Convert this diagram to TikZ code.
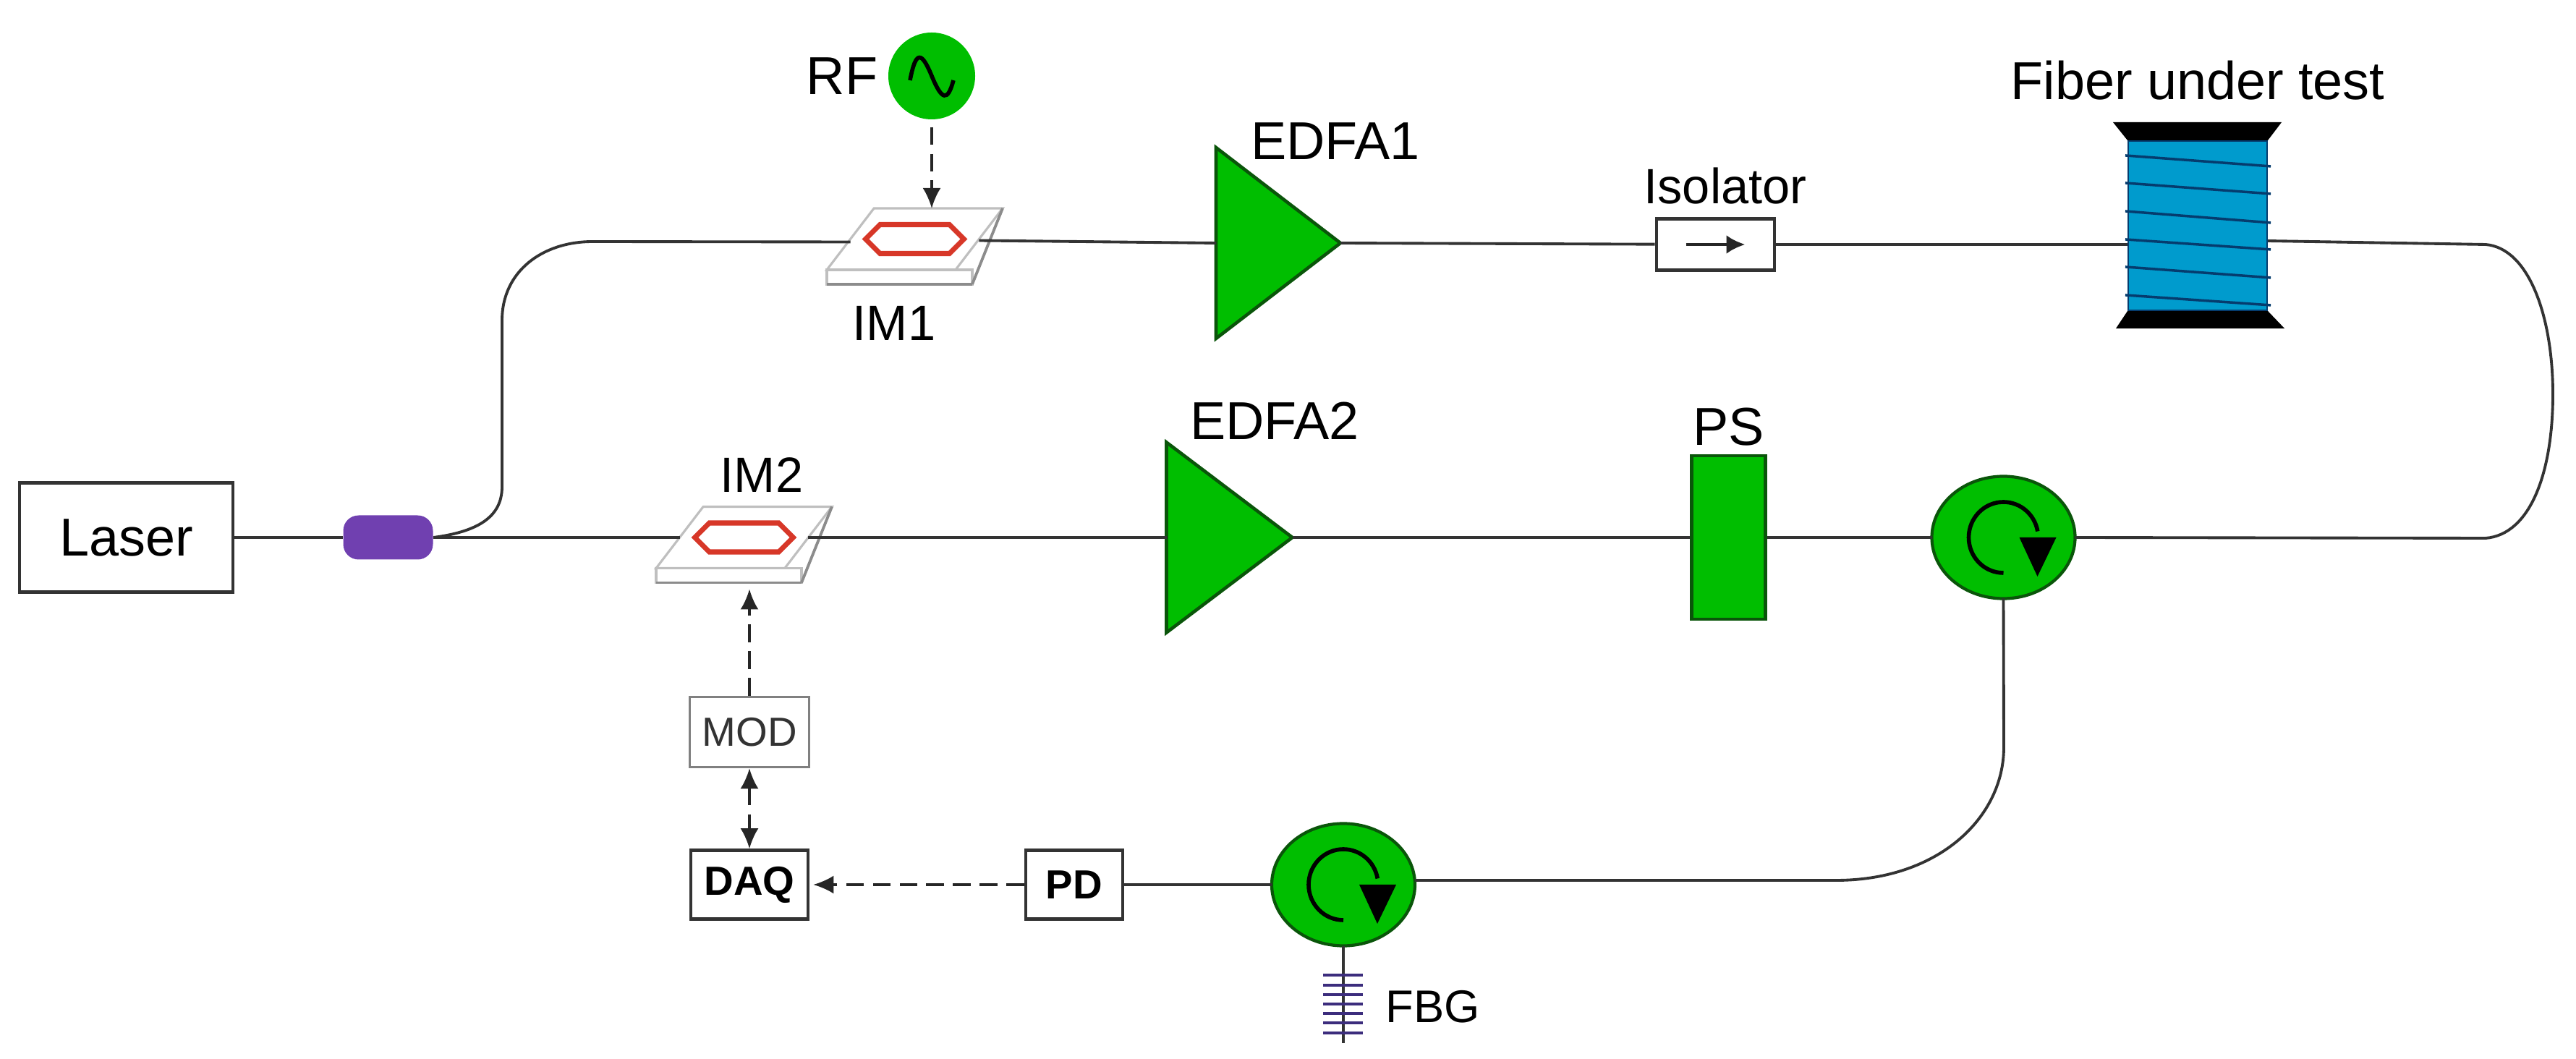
\documentclass[tikz,border=0pt]{standalone}
\usepackage{fontspec}
\setmainfont{Liberation Sans}
\usetikzlibrary{arrows.meta,shapes.geometric,shapes.symbols}

\definecolor{ampgreen}{RGB}{0,190,0}
\definecolor{ampedge}{RGB}{10,85,10}
\definecolor{coilblue}{RGB}{0,155,205}
\definecolor{coilline}{RGB}{5,60,110}
\definecolor{purp}{RGB}{112,64,176}
\definecolor{fbgcol}{RGB}{60,45,125}
\definecolor{hexred}{RGB}{215,55,40}

\tikzset{
  bigtxt/.style={inner sep=0pt, font=\fontsize{21pt}{25pt}\selectfont},
  imtxt/.style={inner sep=0pt, font=\fontsize{19.5pt}{24pt}\selectfont},
  fibre/.style={draw=black!80, line width=1.1pt},
  sigline/.style={draw=black!85, line width=.9pt, dashed, dash pattern=on 7pt off 3.5pt, -{Latex[length=2.8mm,width=2.5mm]}},
  sigboth/.style={sigline, {Latex[length=2.8mm,width=2.5mm]}-{Latex[length=2.8mm,width=2.5mm]}},
  box/.style={draw=black!80, fill=white, line width=1.3pt, inner sep=0pt},
  amp/.style={isosceles triangle, isosceles triangle stretches, shape border rotate=0, fill=ampgreen, draw=ampedge, line width=1.3pt, inner sep=1pt, outer sep=0pt},
  plate/.style={trapezium, trapezium left angle=60, trapezium right angle=120, trapezium stretches, draw=black!25, fill=white, line width=.9pt, inner sep=1pt, outer sep=0pt, minimum width=2.43cm, minimum height=.85cm},
  platefront/.style={draw=black!25, fill=white, line width=.9pt, inner sep=0pt, outer sep=0pt, minimum width=2.01cm, minimum height=.2cm, anchor=north west},
  plateedge/.style={draw=black!45, line width=1.1pt},
  hexring/.style={signal, signal to=east and west, signal pointer angle=90, draw=hexred, line width=2pt, inner sep=0pt, minimum width=1.36cm, minimum height=.40cm},
  circulator/.style={ellipse, fill=ampgreen, draw=ampedge, line width=1.2pt, inner sep=0pt, outer sep=0pt, minimum width=1.98cm, minimum height=1.69cm},
  turn/.style={draw=black, line width=1.6pt},
  winding/.style={draw=coilline, line width=1pt},
  tooth/.style={draw=fbgcol, line width=1.2pt},
}

\begin{document}
\begin{tikzpicture}
  \useasboundingbox (0,0) rectangle (35.61,14.63);

  % bottom row of the loop
  \node (laser) [box, minimum width=2.95cm, minimum height=1.51cm, bigtxt] at (1.745,7.20) {Laser};
  \node (coup) [node distance=3.62cm, right of=laser, fill=purp, rounded corners=6pt, inner sep=0pt, minimum width=1.24cm, minimum height=.61cm] {};
  \node (im2) [plate, node distance=4.92cm, right of=coup] {};
  \node (im2f) [platefront] at (im2.bottom left corner) {};
  \node (hex2) [hexring] at (im2.center) {};
  \node (im2txt) [imtxt] at (10.53,8.06) {IM2};
  \node (edfa2) [amp, minimum width=2.63cm, minimum height=1.74cm, node distance=5.84cm, right of=im2, anchor=lower side] {};
  \node (edfa2txt) [bigtxt] at (17.62,8.81) {EDFA2};
  \node (ps) [fill=ampgreen, draw=ampedge, line width=1.3pt, inner sep=0pt, minimum width=1.02cm, minimum height=2.26cm, node distance=13.61cm, right of=im2] {};
  \node (pstxt) [bigtxt, node distance=1.53cm, above of=ps] {PS};
  \node (circ1) [circulator, node distance=3.8cm, right of=ps] {};

  % top row
  \node (im1) [plate] at (12.645,11.325) {};
  \node (im1f) [platefront] at (im1.bottom left corner) {};
  \node (hex1) [hexring] at (im1.center) {};
  \node (im1txt) [imtxt] at (12.36,10.16) {IM1};
  \node (rf) [circle, fill=ampgreen, inner sep=0pt, minimum size=1.2cm] at (12.88,13.58) {};
  \node (rftxt) [bigtxt, node distance=1.24cm, left of=rf] {RF};
  \node (edfa1) [amp, minimum width=2.64cm, minimum height=1.72cm, anchor=lower side] at (16.81,11.27) {};
  \node (edfa1txt) [bigtxt] at (18.46,12.68) {EDFA1};
  \node (iso) [box, minimum width=1.63cm, minimum height=.71cm] at (23.715,11.25) {};
  \node (isotxt) [imtxt] at (23.85,12.06) {Isolator};
  \node (spool) [fill=coilblue, draw=coilline, line width=.6pt, inner sep=0pt, minimum width=1.92cm, minimum height=2.34cm] at (30.38,11.51) {};
  \node (spooltxt) [bigtxt, node distance=2.01cm, above of=spool] {Fiber under test};

  % detection part
  \node (circ2) [circulator] at (18.57,2.40) {};
  \node (pd) [box, minimum width=1.34cm, minimum height=.95cm, font=\fontsize{16pt}{19pt}\selectfont\bfseries, node distance=3.72cm, left of=circ2] {PD};
  \node (daq) [box, minimum width=1.62cm, minimum height=.95cm, font=\fontsize{16pt}{19pt}\selectfont\bfseries, node distance=4.49cm, left of=pd] {DAQ};
  \node (mod) [box, draw=black!50, text=black!80, line width=1pt, minimum width=1.65cm, minimum height=.97cm, font=\fontsize{16pt}{19pt}\selectfont, node distance=2.11cm, above of=daq] {MOD};
  \node (fbgtxt) [inner sep=0pt, font=\fontsize{18pt}{22pt}\selectfont] at (19.81,.71) {FBG};
  \coordinate (fbgend) at (18.57,.21);

  % modulator plates, side edge and lower edge
  \draw [plateedge] (im1.top right corner) to (im1f.south east);
  \draw [plateedge] (im1f.south west) to (im1f.south east);
  \draw [plateedge] (im2.top right corner) to (im2f.south east);
  \draw [plateedge] (im2f.south west) to (im2f.south east);

  % fibres
  \draw [fibre] (laser) to (coup);
  \draw [fibre] (coup) to (im2.left side);
  \draw [fibre] (im2.right side) to (edfa2.lower side);
  \draw [fibre] (edfa2.apex) to (ps);
  \draw [fibre] (ps) to (circ1);
  \draw [fibre] (coup.east) .. controls (6.60,7.28) and (6.94,7.48) .. (6.94,7.90) -- (6.94,10.2) .. controls (6.94,10.88) and (7.50,11.29) .. (8.19,11.29) -- ([yshift=-.04cm]im1.left side);
  \draw [fibre] ([yshift=-.02cm]im1.right side) to (edfa1.lower side);
  \draw [fibre] (edfa1.apex) to (iso);
  \draw [fibre] (iso.east) to (iso.east -| spool.west);
  \draw [fibre] ([yshift=-.21cm]spool.east) -- (34.36,11.25) .. controls (34.96,11.20) and (35.29,10.25) .. (35.29,9.18) .. controls (35.29,8.10) and (34.98,7.24) .. (34.36,7.19) -- (circ1.east);
  \draw [fibre] (circ1.south) -- (27.70,4.30) .. controls (27.70,3.33) and (26.80,2.46) .. (25.38,2.46) -- ([yshift=.06cm]circ2.east);
  \draw [fibre] (circ2) to (pd);
  \draw [fibre] (circ2.south) to (fbgend);

  % signal lines
  \draw [sigline] ([yshift=-.1cm]rf.south) to (rf.south |- im1.north);
  \draw [sigline] (mod.north) to ([yshift=-.09cm]mod.north |- im2f.south);
  \draw [sigboth] (mod) to (daq);
  \draw [sigline] (pd) to ([xshift=.05cm]daq.east);

  % sine of the source
  \draw [turn, shift={(rf.center)}] (-.30,-.06) .. controls (-.22,.36) and (-.14,.34) .. (0,0) .. controls (.14,-.34) and (.22,-.36) .. (.30,-.06);

  % isolator arrow
  \draw [draw=black!85, line width=1.3pt, -{Latex[length=2.6mm,width=2.6mm]}] ([xshift=-.41cm]iso.center) to ([xshift=.41cm]iso.center);

  % circulator arrows
  \draw [turn, shift={(circ1.center)}] (0,-.49) arc [start angle=-90, end angle=-350, x radius=.48cm, y radius=.49cm];
  \fill [shift={(circ1.center)}] (.22,0) -- (.73,0) -- (.47,-.54) -- cycle;
  \draw [turn, shift={(circ2.center)}] (0,-.49) arc [start angle=-90, end angle=-350, x radius=.48cm, y radius=.49cm];
  \fill [shift={(circ2.center)}] (.22,0) -- (.73,0) -- (.47,-.54) -- cycle;

  % spool flanges
  \fill ([shift={(-.2,.25)}]spool.north west) -- ([shift={(.19,.25)}]spool.north east) -- (spool.north east) -- (spool.north west) -- cycle;
  \fill ([shift={(-.16,-.24)}]spool.south west) -- ([shift={(.23,-.24)}]spool.south east) -- (spool.south east) -- (spool.south west) -- cycle;

  % windings
  \draw [winding] ([shift={(-.03,-.21)}]spool.north west) -- ([shift={(.04,-.36)}]spool.north east);
  \draw [winding] ([shift={(-.03,-.59)}]spool.north west) -- ([shift={(.04,-.74)}]spool.north east);
  \draw [winding] ([shift={(-.03,-.98)}]spool.north west) -- ([shift={(.04,-1.14)}]spool.north east);
  \draw [winding] ([shift={(-.03,-1.37)}]spool.north west) -- ([shift={(.04,-1.51)}]spool.north east);
  \draw [winding] ([shift={(-.03,-1.75)}]spool.north west) -- ([shift={(.04,-1.90)}]spool.north east);
  \draw [winding] ([shift={(-.03,-2.14)}]spool.north west) -- ([shift={(.04,-2.28)}]spool.north east);

  % grating teeth
  \draw [tooth] (18.29,1.15) -- (18.84,1.15);
  \draw [tooth] (18.29,1.01) -- (18.84,1.01);
  \draw [tooth] (18.29,.88) -- (18.84,.88);
  \draw [tooth] (18.29,.75) -- (18.84,.75);
  \draw [tooth] (18.29,.62) -- (18.84,.62);
  \draw [tooth] (18.29,.49) -- (18.84,.49);
  \draw [tooth] (18.29,.35) -- (18.84,.35);
\end{tikzpicture}
\end{document}
